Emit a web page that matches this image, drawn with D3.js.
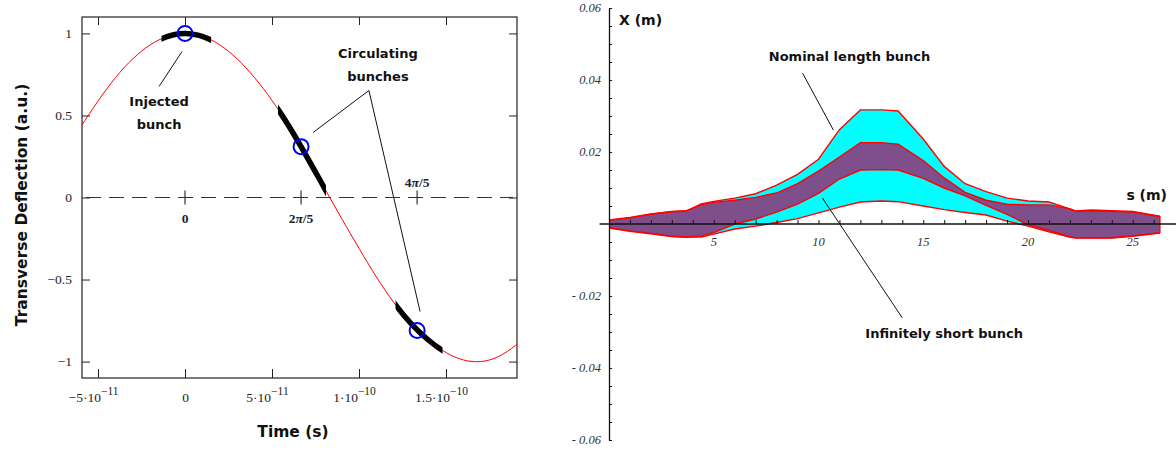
<!DOCTYPE html>
<html>
<head>
<meta charset="utf-8">
<script src="https://cdn.jsdelivr.net/npm/d3@7"></script>
<style>
  body { margin: 0; background: #fff; }
</style>
</head>
<body>
<svg id="chart" width="1176" height="450" viewBox="0 0 1176 450"></svg>
<script>
// ---- left panel: transverse deflection seen by the bunches ----
const timeSamples = [-6e-11, -4e-11, -2e-11, 0, 2e-11, 4e-11, 6e-11, 8e-11, 1e-10, 1.2e-10, 1.4e-10, 1.6e-10, 1.8e-10, 2e-10];
const deflection = [0.43, 0.73, 0.93, 1.00, 0.93, 0.73, 0.43, 0.06, -0.31, -0.64, -0.87, -0.99, -0.97, -0.81];
const timeTicks = [-5e-11, 0, 5e-11, 1e-10, 1.5e-10];
const timeTickLabels = [["−5·10", "−11"], ["0", ""], ["5·10", "−11"], ["1·10", "−10"], ["1.5·10", "−10"]];
const deflTicks = [1, 0.5, 0, -0.5, -1];
const deflTickLabels = ["1", "0.5", "0", "−0.5", "−1"];
const phaseTimes = [0, 6.67e-11, 1.334e-10];
const phaseLabels = [["0", ""], ["2", "π", "/5"], ["4", "π", "/5"]];
const bunchStart = [-1.35e-11, 5.35e-11, 1.21e-10];
const bunchEnd = [1.5e-11, 8.1e-11, 1.48e-10];
const bunchValue = [1.0, 0.31, -0.81];

// ---- right panel: beam envelopes along the line ----
const sPos = [0, 1, 2, 3, 3.7, 4.4, 5, 6, 7, 8, 9, 10, 11, 12, 13, 13.8, 15, 16, 17, 18, 19, 20, 21, 22, 22.3, 23, 24, 25, 26.3];
const nominalUpper = [0.0010, 0.0017, 0.0027, 0.0034, 0.0036, 0.0056, 0.0063, 0.0072, 0.0084, 0.0108, 0.0138, 0.0180, 0.0262, 0.0317, 0.0317, 0.0314, 0.0236, 0.0160, 0.0112, 0.0090, 0.0072, 0.0064, 0.0061, 0.0042, 0.0035, 0.0037, 0.0035, 0.0033, 0.0020];
const nominalLower = [-0.0010, -0.0019, -0.0026, -0.0034, -0.0036, -0.0036, -0.0028, -0.0014, -0.0006, 0.0004, 0.0015, 0.0031, 0.0047, 0.0061, 0.0064, 0.0062, 0.0050, 0.0040, 0.0032, 0.0025, 0.0008, -0.0006, -0.0022, -0.0036, -0.0038, -0.0038, -0.0038, -0.0033, -0.0024];
const shortUpper = [0.0011, 0.0018, 0.0028, 0.0035, 0.0037, 0.0053, 0.0060, 0.0066, 0.0074, 0.0086, 0.0112, 0.0147, 0.0186, 0.0226, 0.0226, 0.0222, 0.0176, 0.0128, 0.0088, 0.0066, 0.0055, 0.0053, 0.0053, 0.0042, 0.0036, 0.0039, 0.0037, 0.0035, 0.0022];
const shortLower = [-0.0011, -0.0020, -0.0027, -0.0035, -0.0037, -0.0033, -0.0024, 0.0000, 0.0014, 0.0033, 0.0055, 0.0085, 0.0125, 0.0150, 0.0151, 0.0150, 0.0127, 0.0100, 0.0078, 0.0052, 0.0027, -0.0002, -0.0018, -0.0036, -0.0039, -0.0039, -0.0039, -0.0034, -0.0025];
const sLabelTicks = [5, 10, 15, 20, 25];
const xLabelTicks = [0.06, 0.04, 0.02, -0.02, -0.04, -0.06];
const xTickLabels = ["0.06", "0.04", "0.02", "- 0.02", "- 0.04", "- 0.06"];

const svg = d3.select("#chart");
svg.append("rect").attr("width", 1176).attr("height", 450).attr("fill", "#fff");
const defs = svg.append("defs");

const annoFont = "'Comic Sans MS', 'DejaVu Sans', sans-serif";
const serifFont = "'Times New Roman', 'Liberation Serif', 'DejaVu Serif', 'Noto Serif', serif";

// ================= left panel =================
const L = { x0: 82, x1: 517, y0: 17, y1: 378 };
const x = d3.scaleLinear().domain([-5.92e-11, 1.908e-10]).range([L.x0, L.x1]);
const y = d3.scaleLinear().domain([-1.1, 1.1]).range([L.y1, L.y0]);

defs.append("clipPath").attr("id", "plotClip").append("rect")
  .attr("x", L.x0).attr("y", L.y0).attr("width", L.x1 - L.x0).attr("height", L.y1 - L.y0);
bunchStart.forEach((b, i) => {
  defs.append("clipPath").attr("id", `bunch${i}`).append("rect")
    .attr("x", x(b)).attr("y", L.y0).attr("width", x(bunchEnd[i]) - x(b)).attr("height", L.y1 - L.y0);
});

const left = svg.append("g");

// ticks, pointing inwards
left.append("g").attr("transform", `translate(0,${L.y1})`)
  .call(d3.axisBottom(x).tickValues(timeTicks).tickSize(-9).tickSizeOuter(0).tickPadding(14))
  .call(g => g.select(".domain").remove())
  .call(g => g.selectAll(".tick line").attr("stroke", "#222"))
  .call(g => g.selectAll(".tick text").each(function(d, i) {
    const t = d3.select(this).text("")
      .attr("font-family", serifFont).attr("font-size", 13.5).attr("fill", "#222")
      .attr("x", timeTickLabels[i][1] ? -5 : 0);
    t.append("tspan").text(timeTickLabels[i][0]);
    if (timeTickLabels[i][1]) t.append("tspan").attr("dy", -7).attr("font-size", 11.5).text(timeTickLabels[i][1]);
  }));

left.append("g").attr("transform", `translate(0,${L.y0})`)
  .call(d3.axisTop(x).tickValues(timeTicks).tickSize(-8).tickSizeOuter(0).tickFormat(""))
  .call(g => g.select(".domain").remove())
  .call(g => g.selectAll(".tick line").attr("stroke", "#222"));

left.append("g").attr("transform", `translate(${L.x0},0)`)
  .call(d3.axisLeft(y).tickValues(deflTicks).tickSize(-8).tickSizeOuter(0).tickPadding(10)
    .tickFormat((d, i) => deflTickLabels[i]))
  .call(g => g.select(".domain").remove())
  .call(g => g.selectAll(".tick line").attr("stroke", "#222"))
  .call(g => g.selectAll(".tick text").attr("font-family", serifFont)
    .attr("font-size", 13.5).attr("fill", "#222"));

left.append("g").attr("transform", `translate(${L.x1},0)`)
  .call(d3.axisRight(y).tickValues(deflTicks).tickSize(-8).tickSizeOuter(0).tickFormat(""))
  .call(g => g.select(".domain").remove())
  .call(g => g.selectAll(".tick line").attr("stroke", "#222"));

left.append("rect")
  .attr("x", L.x0).attr("y", L.y0).attr("width", L.x1 - L.x0).attr("height", L.y1 - L.y0)
  .attr("fill", "none").attr("stroke", "#222").attr("stroke-width", 1.2);

// dashed zero line with phase marks
left.append("line")
  .attr("x1", L.x0 + 4).attr("x2", L.x1 - 4).attr("y1", y(0)).attr("y2", y(0))
  .attr("stroke", "#333").attr("stroke-width", 1.2).attr("stroke-dasharray", "15,8");

const phase = left.selectAll(".phase").data(phaseTimes).join("g").attr("class", "phase")
  .attr("transform", d => `translate(${x(d)},${y(0)})`);
phase.append("line").attr("y1", -7).attr("y2", 7).attr("stroke", "#333").attr("stroke-width", 1.2);
phase.append("text")
  .attr("y", (d, i) => i === 2 ? -11 : 25)
  .attr("text-anchor", "middle")
  .attr("font-family", serifFont).attr("font-weight", "bold").attr("font-size", 13.5)
  .attr("fill", "#222")
  .each(function(d, i) {
    const t = d3.select(this);
    phaseLabels[i].forEach((p, k) => {
      if (p) t.append("tspan").attr("font-style", k === 1 ? "italic" : "normal").text(p);
    });
  });

const wave = timeSamples.map((t, i) => [t, deflection[i]]);
const line = d3.line().x(d => x(d[0])).y(d => y(d[1])).curve(d3.curveNatural);

left.append("path").attr("d", line(wave))
  .attr("fill", "none").attr("stroke", "#ff0000").attr("stroke-width", 1)
  .attr("clip-path", "url(#plotClip)");

bunchStart.forEach((b, i) => {
  left.append("path").attr("d", line(wave))
    .attr("fill", "none").attr("stroke", "#000").attr("stroke-width", 5.5)
    .attr("clip-path", `url(#bunch${i})`);
});

left.selectAll(".centre").data(phaseTimes).join("circle").attr("class", "centre")
  .attr("cx", d => x(d)).attr("cy", (d, i) => y(bunchValue[i]))
  .attr("r", 7.5).attr("fill", "none").attr("stroke", "#0000ff").attr("stroke-width", 2);

// annotations
const leftNotes = [
  { lines: ["Injected", "bunch"], t: -1.49e-11, v: 0.555 },
  { lines: ["Circulating", "bunches"], t: 1.109e-10, v: 0.848 }
];
const leftLeaders = [
  [[-1.49e-11, 0.677], [-0.17e-11, 0.89]],
  [[7.36e-11, 0.396], [1.057e-10, 0.652], [1.351e-10, -0.695]]
];
leftLeaders.forEach(pts => {
  left.append("path").attr("d", d3.line().x(d => x(d[0])).y(d => y(d[1]))(pts))
    .attr("fill", "none").attr("stroke", "#111").attr("stroke-width", 1);
});
leftNotes.forEach(n => {
  left.append("text").attr("text-anchor", "middle")
    .attr("font-family", annoFont).attr("font-weight", "bold").attr("font-size", 13).attr("fill", "#111")
    .selectAll("tspan").data(n.lines).join("tspan")
    .attr("x", x(n.t)).attr("y", (d, i) => y(n.v) + i * 23).text(d => d);
});

// axis titles
left.append("text")
  .attr("transform", `translate(27,205) rotate(-90)`)
  .attr("text-anchor", "middle")
  .attr("font-family", annoFont).attr("font-weight", "bold").attr("font-size", 15.5).attr("fill", "#111")
  .text("Transverse Deflection (a.u.)");
left.append("text")
  .attr("x", 293).attr("y", 437)
  .attr("text-anchor", "middle")
  .attr("font-family", annoFont).attr("font-weight", "bold").attr("font-size", 15.5).attr("fill", "#111")
  .text("Time (s)");

// ================= right panel =================
const xs = d3.scaleLinear().domain([0, 26]).range([609, 609 + 26 * 20.95]);
const ys = d3.scaleLinear().domain([-0.06, 0.06]).range([440, 8]);
const right = svg.append("g");

const env = sPos.map((s, i) => ({ s, nu: nominalUpper[i], nl: nominalLower[i], su: shortUpper[i], sl: shortLower[i] }));

right.append("path")
  .attr("d", d3.area().x(d => xs(d.s)).y0(d => ys(d.nl)).y1(d => ys(d.nu))(env))
  .attr("fill", "#00ffff");
right.append("path")
  .attr("d", d3.area().x(d => xs(d.s)).y0(d => ys(d.sl)).y1(d => ys(d.su))(env))
  .attr("fill", "#7f4f8c");
["nu", "nl", "su", "sl"].forEach(k => {
  right.append("path")
    .attr("d", d3.line().x(d => xs(d.s)).y(d => ys(d[k]))(env))
    .attr("fill", "none").attr("stroke", "#ff0000").attr("stroke-width", 1.4);
});
// closing edge at the end of the line
right.append("line")
  .attr("x1", xs(sPos[sPos.length - 1])).attr("x2", xs(sPos[sPos.length - 1]))
  .attr("y1", ys(shortUpper[shortUpper.length - 1])).attr("y2", ys(shortLower[shortLower.length - 1]))
  .attr("stroke", "#ff0000").attr("stroke-width", 1.2);

// axes
right.append("g").attr("transform", `translate(${xs(0)},0)`)
  .call(d3.axisRight(ys).tickValues(d3.range(-0.06, 0.0601, 0.005)).tickSize(3).tickSizeOuter(0).tickFormat(""))
  .call(g => g.select(".domain").attr("stroke", "#111").attr("stroke-width", 1.3))
  .call(g => g.selectAll(".tick line").attr("stroke", "#111"));

right.append("line")
  .attr("x1", xs(-0.45)).attr("x2", 1176).attr("y1", ys(0)).attr("y2", ys(0))
  .attr("stroke", "#111").attr("stroke-width", 1.3);
right.append("g").attr("transform", `translate(0,${ys(0)})`)
  .call(d3.axisTop(xs).tickValues(d3.range(1, 27)).tickSize(4).tickSizeOuter(0).tickFormat(""))
  .call(g => g.select(".domain").remove())
  .call(g => g.selectAll(".tick line").attr("stroke", "#111"));

right.selectAll(".slab").data(sLabelTicks).join("text").attr("class", "slab")
  .attr("x", d => xs(d)).attr("y", ys(0) + 22)
  .attr("text-anchor", "middle")
  .attr("font-family", serifFont).attr("font-style", "italic").attr("font-size", 12.5)
  .attr("fill", "#333").text(d => d);

right.selectAll(".xlab").data(xLabelTicks).join("text").attr("class", "xlab")
  .attr("x", xs(0) - 8).attr("y", d => ys(d) + 4)
  .attr("text-anchor", "end")
  .attr("font-family", serifFont).attr("font-style", "italic").attr("font-size", 12.5)
  .attr("fill", "#333").text((d, i) => xTickLabels[i]);

right.append("text")
  .attr("x", xs(0) + 10).attr("y", 25)
  .attr("font-family", annoFont).attr("font-weight", "bold").attr("font-size", 14).attr("fill", "#111")
  .text("X (m)");
right.append("text")
  .attr("x", 1167).attr("y", 200).attr("text-anchor", "end")
  .attr("font-family", annoFont).attr("font-weight", "bold").attr("font-size", 14).attr("fill", "#111")
  .text("s (m)");

const rightNotes = [
  { text: "Nominal length bunch", s: 11.48, v: 0.0453, from: [9.24, 0.0419], to: [10.71, 0.0261] },
  { text: "Infinitely short bunch", s: 16.0, v: -0.0318, from: [10.19, 0.0072], to: [14.0, -0.0261] }
];
rightNotes.forEach(n => {
  right.append("line")
    .attr("x1", xs(n.from[0])).attr("y1", ys(n.from[1]))
    .attr("x2", xs(n.to[0])).attr("y2", ys(n.to[1]))
    .attr("stroke", "#111").attr("stroke-width", 1);
  right.append("text")
    .attr("x", xs(n.s)).attr("y", ys(n.v)).attr("text-anchor", "middle")
    .attr("font-family", annoFont).attr("font-weight", "bold").attr("font-size", 13).attr("fill", "#111")
    .text(n.text);
});
</script>
</body>
</html>
